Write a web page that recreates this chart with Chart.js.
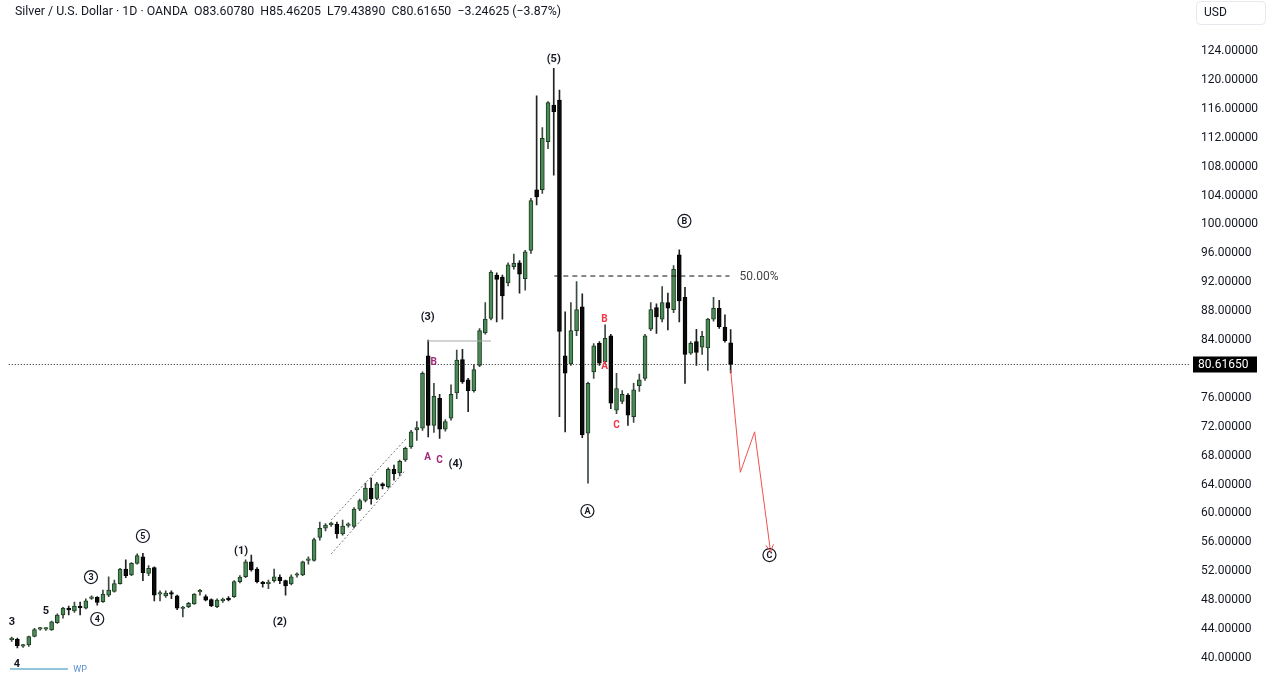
<!DOCTYPE html>
<html><head><meta charset="utf-8">
<script src="https://cdn.jsdelivr.net/npm/chart.js@4/dist/chart.umd.min.js"></script>
<style>html,body{margin:0;padding:0;background:#fff;overflow:hidden}#wrap{width:1280px;height:678px;position:relative}</style>
</head><body><div id="wrap"><canvas id="c" width="1280" height="678"></canvas></div>
<script>
// ---- data ----
const dayLabels = Array.from({length: 207}, (_, i) => String(i + 1));
const opens = [42.55,42.6,41.65,41.8,43.0,44.0,44.0,43.9,44.9,45.95,
46.8,46.5,47.05,46.9,48.25,48.4,47.8,48.7,49.2,50.3,
52.3,51.5,53.1,54.0,51.7,52.5,48.85,48.6,48.9,48.6,
46.85,47.1,47.5,49.15,48.5,48.1,47.1,47.95,48.15,48.5,
50.57,51.25,53.3,52.3,50.35,50.3,50.7,51.2,50.7,50.24,
51.45,51.5,53.5,53.5,56.7,57.96,58.45,58.5,57.16,58.35,
58.2,60.6,61.8,63.5,62.1,64.1,63.7,66.1,65.6,67.4,
69.2,71.55,71.8,81.8,72.2,75.95,71.65,73.2,76.7,81.3,
78.5,77.0,80.5,85.0,87.0,93.0,92.7,91.9,94.15,94.7,
92.5,96.4,104.8,104.8,111.45,116.5,117.2,81.8,80.7,85.3,
88.6,71.1,79.6,83.55,81.0,84.6,74.3,75.5,76.4,73.4,
77.7,78.7,85.5,88.5,86.9,89.2,88.2,95.8,89.9,82.2,
83.8,83.0,82.9,86.9,88.4,85.8,83.6078];
const highs = [42.9,42.75,41.9,43.05,44.1,44.25,44.2,45.1,46.1,47.0,
47.2,47.75,47.75,48.2,48.6,48.5,49.4,51.25,50.8,52.4,
53.6,53.2,54.4,54.5,52.8,52.6,49.3,49.3,49.3,48.7,
47.15,47.7,48.9,49.5,48.75,48.2,48.2,48.3,48.5,50.7,
51.4,53.6,54.25,52.5,50.6,50.8,52.3,51.5,50.8,51.5,
51.8,53.4,54.0,56.6,58.8,58.6,58.8,58.8,59.1,58.7,
60.8,62.0,64.2,64.9,64.3,64.25,66.3,66.7,67.4,69.2,
71.5,72.7,79.6,84.0,78.0,76.5,73.0,77.8,82.6,82.7,
78.7,80.6,85.6,89.2,93.6,93.3,93.0,94.7,95.9,95.0,
96.4,103.6,117.8,113.4,117.0,121.6,118.6,87.9,89.2,92.1,
90.4,78.2,83.5,83.8,86.1,84.8,79.4,77.0,76.6,78.0,
79.3,84.8,89.2,89.0,91.4,90.5,94.3,96.5,91.3,83.8,
85.5,85.2,87.0,89.9,89.5,87.5,85.46205];
const lows = [42.3,41.4,41.45,41.6,42.9,43.85,43.8,43.8,44.8,45.5,
45.95,46.3,45.95,46.8,48.1,47.3,47.7,48.5,49.1,50.2,
51.1,51.4,53.0,50.7,51.4,47.9,47.9,48.4,48.2,46.7,
45.7,46.95,47.4,48.7,47.9,47.1,46.95,47.7,47.9,48.4,
50.4,51.1,52.0,50.4,49.8,49.6,50.5,50.3,48.7,50.1,
51.2,51.4,53.0,53.4,56.3,57.6,58.2,56.6,57.0,58.1,
58.0,60.4,61.6,61.3,61.9,63.4,63.5,64.6,65.2,67.2,
69.0,70.1,71.5,70.6,71.2,70.4,71.4,72.9,75.9,78.0,
74.1,76.8,80.3,84.8,86.8,86.5,86.9,91.5,93.8,90.5,
90.9,96.0,102.7,104.3,110.5,106.8,73.4,71.3,80.5,84.6,
70.5,64.2,78.7,80.5,80.7,74.5,73.8,75.2,72.2,72.6,
76.9,78.4,85.3,84.9,86.5,85.4,87.8,86.5,78.0,82.0,
80.5,82.0,79.8,86.6,85.6,83.7,79.4389];
const closes = [42.6,41.7,41.7,42.95,43.95,44.05,44.0,45.0,45.95,46.9,
46.65,47.2,46.95,47.9,48.45,47.7,48.86,49.4,50.3,52.3,
51.4,53.1,54.16,51.8,52.4,48.7,48.9,49.0,48.85,46.9,
46.9,47.55,48.86,49.2,48.0,47.2,48.0,48.0,48.05,50.57,
51.2,53.3,52.2,50.57,50.3,50.5,51.25,50.7,49.96,51.25,
51.5,53.3,53.56,56.4,57.96,58.4,58.5,57.2,58.27,58.4,
60.6,61.8,63.5,62.0,64.1,63.8,66.1,65.5,67.2,69.0,
71.3,71.9,79.4,72.2,76.2,71.65,72.7,76.5,81.24,78.2,
77.0,79.9,85.3,86.9,93.4,92.4,90.1,94.4,94.6,93.1,
96.2,103.3,103.8,111.9,116.85,115.6,85.2,79.4,85.3,88.2,
70.9,78.0,83.2,80.8,84.25,75.25,77.3,76.5,73.6,77.1,
78.5,84.6,88.2,87.2,89.2,88.4,93.8,89.4,82.0,83.55,
82.3,84.5,86.9,88.4,85.85,83.9,80.6165];
const yTickValues = [40,44,48,52,56,60,64,68,72,76,84,88,92,96,100,104,108,112,116,120,124];
const lastPrice = 80.6165;
const titleText = 'Silver / U.S. Dollar \u00b7 1D \u00b7 OANDA  O83.60780  H85.46205  L79.43890  C80.61650  \u22123.24625 (\u22123.87%)';
const fibLevel = 92.86;
const fibStartEnd = [95.1, 125.8];
const projIdx = [126, 127.7, 130.2, 133.0];
const projPrice = [79.86, 65.7, 71.3, 54.7];
const chanUpperIdx = [56.0, 69.2], chanUpperPrice = [59.1, 70.4];
const chanLowerIdx = [56.0, 68.9], chanLowerPrice = [54.4, 65.9];
const w3Idx = [72.9, 84.0], w3Price = [83.87, 83.87];
const wpIdx = [-0.3, 9.86], wpPrice = [38.48, 38.48];

const plainLabels = [
  {t:'(5)', i:95.0, p:122.9, c:'#131722', f:'bold 11px Roboto'},
  {t:'(3)', i:72.9, p:87.2, c:'#131722', f:'bold 11px Roboto'},
  {t:'(4)', i:77.8, p:66.85, c:'#131722', f:'bold 11px Roboto'},
  {t:'(1)', i:40.2, p:54.8, c:'#131722', f:'bold 11px Roboto'},
  {t:'(2)', i:47.0, p:44.98, c:'#131722', f:'bold 11px Roboto'},
  {t:'5', i:6.0, p:46.5, c:'#131722', f:'bold 11px Roboto'},
  {t:'3', i:0.05, p:44.98, c:'#131722', f:'bold 11px Roboto'},
  {t:'4', i:0.93, p:39.17, c:'#131722', f:'bold 11px Roboto'},
  {t:'B', i:73.96, p:80.96, c:'#a3287a', f:'bold 10px Roboto'},
  {t:'A', i:72.9, p:67.7, c:'#a3287a', f:'bold 10px Roboto'},
  {t:'C', i:75.0, p:67.4, c:'#a3287a', f:'bold 10px Roboto'},
  {t:'B', i:103.9, p:86.78, c:'#f23645', f:'bold 10px Roboto'},
  {t:'A', i:103.9, p:80.4, c:'#f23645', f:'bold 10px Roboto'},
  {t:'C', i:106.0, p:72.2, c:'#f23645', f:'bold 10px Roboto'}
];
const circleLabels = [
  {t:'B', i:117.9, p:100.48}, {t:'A', i:100.9, p:60.34}, {t:'C', i:132.8, p:54.25},
  {t:'5', i:23.0, p:56.88}, {t:'3', i:13.9, p:51.2}, {t:'4', i:15.0, p:45.4}
];

// ---- build datasets ----
const up = opens.map((o, i) => closes[i] >= o);
const bodyData = opens.map((o, i) => [Math.min(o, closes[i]), Math.max(o, closes[i])]);
const wickData = lows.map((l, i) => [l, highs[i]]);
const pts = (xs, ys) => xs.map((x, k) => ({x, y: ys[k]}));
const lineDs = (data, color, dash, width) => ({type:'line', xAxisID:'x2', data, borderColor:color, borderDash:dash, borderWidth:width, pointRadius:0, fill:false, tension:0, order:0, clip:false});

const annot = {
  id: 'annot',
  afterDatasetsDraw(chart) {
    const ctx = chart.ctx, X = chart.scales.x2, Y = chart.scales.y;
    ctx.save();
    ctx.textAlign = 'center'; ctx.textBaseline = 'middle';
    plainLabels.forEach(l => { ctx.font = l.f; ctx.fillStyle = l.c; ctx.fillText(l.t, X.getPixelForValue(l.i), Y.getPixelForValue(l.p)); });
    circleLabels.forEach(l => {
      const cx = X.getPixelForValue(l.i), cy = Y.getPixelForValue(l.p);
      ctx.beginPath(); ctx.arc(cx, cy, 6.5, 0, Math.PI * 2); ctx.fillStyle = '#fff'; ctx.fill();
      ctx.strokeStyle = '#131722'; ctx.lineWidth = 1.2; ctx.stroke();
      ctx.font = 'bold 9px Roboto'; ctx.fillStyle = '#131722'; ctx.fillText(l.t, cx, cy + 0.5);
    });
    ctx.textAlign = 'left'; ctx.font = '12px Roboto'; ctx.fillStyle = '#444';
    ctx.fillText('50.00%', X.getPixelForValue(127.55), Y.getPixelForValue(92.73));
    ctx.font = '9px Roboto'; ctx.fillStyle = '#5b8fd6';
    ctx.fillText('WP', X.getPixelForValue(10.8), Y.getPixelForValue(38.34));
    const n = projIdx.length;
    const x1 = X.getPixelForValue(projIdx[n-2]), y1 = Y.getPixelForValue(projPrice[n-2]);
    const x2 = X.getPixelForValue(projIdx[n-1]), y2 = Y.getPixelForValue(projPrice[n-1]);
    const ang = Math.atan2(y2 - y1, x2 - x1);
    ctx.strokeStyle = '#ef5350'; ctx.lineWidth = 1;
    ctx.beginPath();
    [0.5, -0.5].forEach(d => { ctx.moveTo(x2, y2); ctx.lineTo(x2 - 8 * Math.cos(ang + d), y2 - 8 * Math.sin(ang + d)); });
    ctx.stroke();
    ctx.font = '12px Roboto'; ctx.fillStyle = '#131722'; ctx.textAlign = 'left';
    const w = ctx.measureText(titleText).width;
    const fs = 12 * 546 / w;
    ctx.font = fs.toFixed(2) + 'px Roboto';
    ctx.fillText(titleText, 15, 12);
    ctx.beginPath(); ctx.roundRect(1196.5, 1.5, 69, 23, 4); ctx.strokeStyle = '#e6e8ee'; ctx.lineWidth = 1; ctx.stroke();
    ctx.font = '12px Roboto'; ctx.fillStyle = '#131722'; ctx.fillText('USD', 1204, 13);
    const py = Y.getPixelForValue(lastPrice);
    ctx.fillStyle = '#000'; ctx.fillRect(1193, py - 8, 64, 16);
    ctx.fillStyle = '#fff'; ctx.font = '12px Roboto'; ctx.fillText(lastPrice.toFixed(5), 1198, py + 0.5);
    ctx.restore();
  }
};

const chart = new Chart(document.getElementById('c'), {
  type: 'bar',
  data: {
    labels: dayLabels,
    datasets: [
      {label:'body', data: bodyData, backgroundColor: up.map(u => u ? '#4a8a55' : '#0a0a0a'), borderColor: up.map(u => u ? '#1d3b22' : '#000'), borderWidth: 1, borderSkipped: false, barThickness: 4, minBarLength: 1.5, grouped: false, order: 1},
      {label:'wick', data: wickData, backgroundColor: up.map(u => u ? '#3d4a3f' : '#222'), borderWidth: 0, barThickness: 1, grouped: false, order: 2},
      lineDs(pts([-0.5, 206.5], [lastPrice, lastPrice]), '#222', [1, 2], 1),
      lineDs(pts(fibStartEnd, [fibLevel, fibLevel]), '#111', [5, 4], 1),
      lineDs(pts(projIdx, projPrice), '#ef5350', [], 1),
      lineDs(pts(chanUpperIdx, chanUpperPrice), '#777', [2, 2], 1),
      lineDs(pts(chanLowerIdx, chanLowerPrice), '#777', [2, 2], 1),
      lineDs(pts(w3Idx, w3Price), '#a8a8a8', [], 1),
      lineDs(pts(wpIdx, wpPrice), '#6fb3cf', [], 1.5)
    ]
  },
  options: {
    responsive: false, animation: false, devicePixelRatio: 1,
    layout: {padding: {left: 8.8, right: 0, top: 0, bottom: 0}},
    plugins: {legend: {display: false}, tooltip: {enabled: false}, title: {display: false}},
    scales: {
      x: {type: 'category', display: false, offset: true},
      x2: {type: 'linear', axis: 'x', display: false, min: -0.5, max: 206.5, offset: false},
      y: {
        type: 'linear', position: 'right', min: 37.232, max: 131.058,
        afterBuildTicks: a => { a.ticks = yTickValues.map(v => ({value: v})); },
        afterFit: a => { a.width = 90; },
        grid: {display: false, drawTicks: false}, border: {display: false},
        ticks: {callback: v => Number(v).toFixed(5), font: {family: 'Roboto', size: 12}, color: '#131722', padding: 11, autoSkip: false}
      }
    }
  },
  plugins: [annot]
});
// calibrate the price axis so that 40 sits at y=658 and 124 at y=51
const pxPerUnit = (658 - 51) / 84;
const area = chart.chartArea;
chart.options.scales.y.max = 40 + (658 - area.top) / pxPerUnit;
chart.options.scales.y.min = 40 - (area.bottom - 658) / pxPerUnit;
chart.update('none');
</script></body></html>
